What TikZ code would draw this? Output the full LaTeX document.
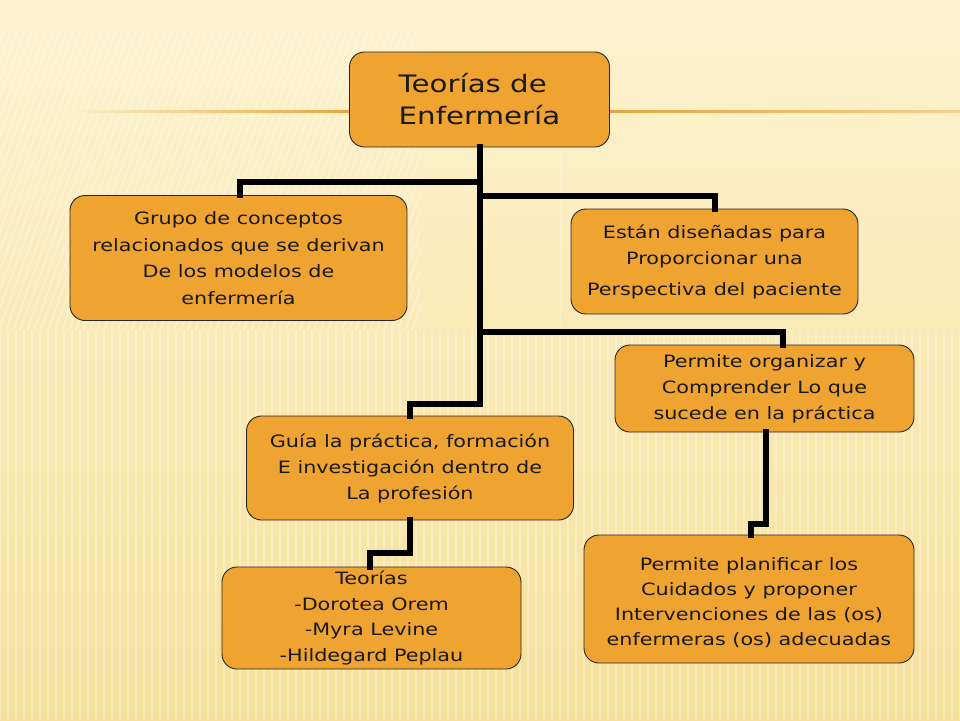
\documentclass[tikz,border=0pt]{standalone}
\usepackage{fontspec}
\setmainfont[FakeStretch=1.22]{DejaVu Sans}
\begin{document}
\begin{tikzpicture}[x=1pt,y=-1pt,
  box/.style={draw=black!85, line width=0.9pt, fill=boxorange, rounded corners=15pt,
    align=center, inner sep=0pt, font=\fontsize{17}{26}\selectfont, text=black!90},
  conn/.style={draw=black, line width=6pt, line cap=rect},
]
\definecolor{boxorange}{RGB}{239,163,49}
\definecolor{bgtop}{RGB}{253,243,208}
\definecolor{bgbot}{RGB}{245,224,155}
\definecolor{lineor}{RGB}{234,165,60}
\useasboundingbox (0,0) rectangle (960,720);
% background
\shade[top color=bgtop, bottom color=bgbot] (0,0) rectangle (960,720);
% faint diagonal stripes (upper left)
\begin{scope}
  \clip (0,30) rectangle (420,330);
  \foreach \i in {0,7,...,700} {
    \draw[white, opacity=0.35, line width=1.5pt] (\i-260,330) -- (\i-150,30);
  }
\end{scope}
% faint vertical stripes (lower part)
\begin{scope}
  \clip (0,330) rectangle (960,720);
  \foreach \i in {0,8,...,960} {
    \draw[white, opacity=0.3, line width=2pt] (\i,330) -- (\i,720);
  }
\end{scope}
\begin{scope}
  \clip (560,60) rectangle (960,330);
  \foreach \i in {560,8,...,960} {
    \draw[white, opacity=0.25, line width=2pt] (\i,60) -- (\i,330);
  }
\end{scope}
% top rule
\shade[left color=bgtop, right color=lineor] (60,110) rectangle (350,112);
\shade[left color=lineor, right color=lineor!45!bgtop] (609,110) rectangle (960,112);

% nodes
\node[box, minimum width=260pt, minimum height=95pt, font=\fontsize{24}{32}\selectfont, align=left]
  (root) at (479.5,99.5) {Teorías de\\Enfermería};
\node[box, minimum width=337pt, minimum height=125pt, font=\fontsize{17}{26.5}\selectfont] (grupo) at (238.5,258)
  {Grupo de conceptos\\relacionados que se derivan\\De los modelos de\\enfermería};
\node[box, minimum width=287pt, minimum height=105pt] (estan) at (714.5,261.5)
  {Están diseñadas para\\Proporcionar una\\[5pt]Perspectiva del paciente};
\node[box, minimum width=299pt, minimum height=87pt] (organ) at (764.5,388.5)
  {Permite organizar y\\Comprender Lo que\\sucede en la práctica};
\node[box, minimum width=327pt, minimum height=104pt] (guia) at (410,468)
  {Guía la práctica, formación\\E investigación dentro de\\La profesión};
\node[box, minimum width=299pt, minimum height=102pt, font=\fontsize{17}{25.5}\selectfont] (teor) at (371.5,618)
  {Teorías\\-Dorotea Orem\\-Myra Levine\\-Hildegard Peplau};
\node[box, minimum width=330pt, minimum height=128pt] (plan) at (749,599) {};
\node[box, draw=none, fill=none, font=\fontsize{17}{25}\selectfont] (plantext) at ([yshift=-4pt]plan.center)
  {Permite planificar los\\Cuidados y proponer\\Intervenciones de las (os)\\enfermeras (os) adecuadas};

% junction coordinates
\coordinate (bl) at (240,182);
\coordinate (br) at (715,196);
\coordinate (bo) at (783,332);
\coordinate (j1) at (410,404);
\coordinate (g1) at (370,553);
\coordinate (p1) at (751,524);

% connectors
\draw[conn] (root.south) |- (j1) -- (guia.north);
\draw[conn] (root.south |- bl) -- (bl) -- (bl |- grupo.north);
\draw[conn] (root.south |- br) -- (br) -- (br |- estan.north);
\draw[conn] (root.south |- bo) -- (bo) -- (bo |- organ.north);
\draw[conn] (guia.south) |- (g1) -- (g1 |- teor.north);
\draw[conn] (organ.south -| 766,0) |- (p1) -- (p1 |- plan.north);
\end{tikzpicture}
\end{document}
